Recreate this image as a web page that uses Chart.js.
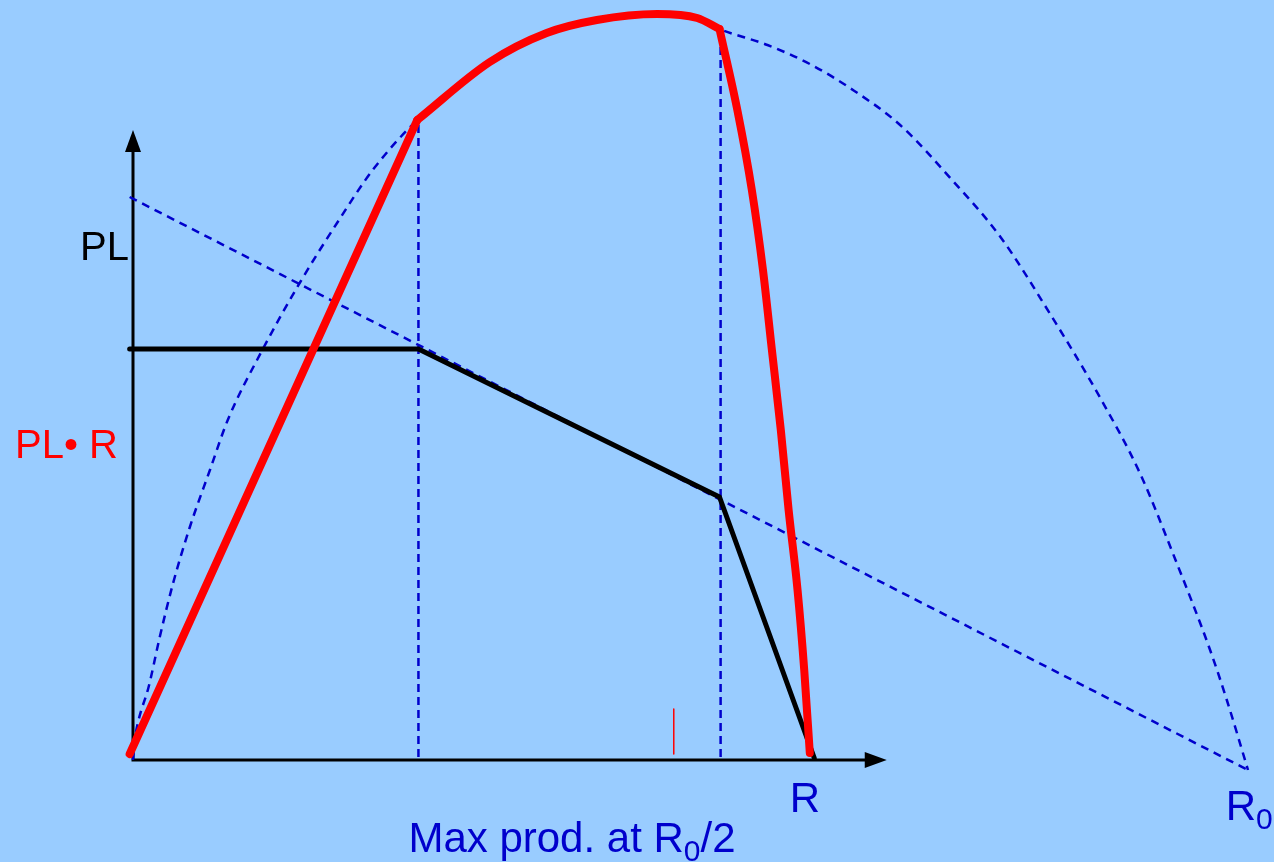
<!DOCTYPE html>
<html>
<head>
<meta charset="utf-8">
<title>PL and PL• R against R</title>
<script src="https://cdn.jsdelivr.net/npm/chart.js@4.4.1/dist/chart.umd.min.js"></script>
<style>
  html, body { margin: 0; padding: 0; background: #99ccff; }
  canvas { display: block; }
</style>
</head>
<body>
<canvas id="myChart" width="1274" height="862"></canvas>
<script>
/* R runs from 0 to R0 = 100 */

// PL (black, piecewise)
var plX = [-0.3, 25.6, 52.6, 61.1];
var plY = [41.1, 41.1, 26.3, 0.2];

// PL • R (red): straight rise, curved top, steep fall
var riseX = [-0.3, 25.5];
var riseY = [0.6, 64.0];
var topX = [25.5, 32.0, 37.1, 41.6, 47.0, 50.6, 52.6];
var topY = [64.0, 69.8, 72.7, 74.0, 74.6, 74.2, 73.1];
var fallX = [52.6, 54.2, 55.5, 56.5, 57.3, 58.1, 58.8, 59.6, 60.2, 60.7];
var fallY = [73.1, 65.0, 57.0, 49.0, 41.0, 33.0, 25.0, 17.0, 9.0, 0.7];

// dashed: straight price line and the product curve out to R0
var lineX = [-0.3, 100];
var lineY = [56.3, -1.0];
var arcX = [0, 0.2, 0.5, 1.4, 2.4, 3.6, 5.1, 6.9, 8.5, 11.6, 15.0, 18.3, 21.5, 25.5, 32.0, 37.1, 41.6, 47.0, 50.6, 52.6,
            56.9, 60.7, 64.3, 68.8, 73.3, 77.8, 82.2, 86.7, 90.3, 93.5, 96.6, 98.1, 100];
var arcY = [0, 2.3, 4.0, 7.3, 12.3, 17.7, 23.3, 29.0, 34.0, 41.0, 47.8, 53.7, 59.0, 64.0, 69.8, 72.7, 74.0, 74.6, 74.2, 73.1,
            71.5, 69.6, 67.2, 63.5, 58.2, 52.3, 44.7, 36.3, 28.7, 20.0, 11.0, 6.0, -1.0];

// dashed drop lines at the two kinks
var guideX = [25.6, 52.7];
var guideTop = [63.8, 73.1];
var guideBottom = 0.3;

// small red mark on the R axis
var markX = 48.5;
var markY = [0.6, 5.1];

// axis arrow ends
var axisXEnd = 67.6;
var axisYEnd = 63.0;

function pts(xs, ys) {
  return xs.map(function(x, i) { return { x: x, y: ys[i] }; });
}

var blue = '#0000cc';

var datasets = [];
datasets.push({ data: pts(riseX, riseY), borderColor: '#ff0000', borderWidth: 8, tension: 0, order: 0 });
datasets.push({ data: pts(topX, topY), borderColor: '#ff0000', borderWidth: 8, cubicInterpolationMode: 'monotone', order: 0 });
datasets.push({ data: pts(fallX, fallY), borderColor: '#ff0000', borderWidth: 8, cubicInterpolationMode: 'monotone', order: 0 });
datasets.push({ data: pts(plX, plY), borderColor: '#000000', borderWidth: 5, tension: 0, order: 1 });
datasets.push({ data: pts(lineX, lineY), borderColor: blue, borderWidth: 2.5, borderDash: [8, 6], tension: 0, order: 2 });
datasets.push({ data: pts(arcX, arcY), borderColor: blue, borderWidth: 2.5, borderDash: [8, 6], cubicInterpolationMode: 'monotone', order: 2 });
guideX.forEach(function(gx, i) {
  datasets.push({ data: [{ x: gx, y: guideBottom }, { x: gx, y: guideTop[i] }], borderColor: blue, borderWidth: 2.5, borderDash: [8, 5], order: 2 });
});
datasets.push({ data: [{ x: markX, y: markY[0] }, { x: markX, y: markY[1] }], borderColor: '#ff0000', borderWidth: 1.5, order: 2 });

datasets.forEach(function(d) {
  d.pointRadius = 0;
  d.fill = false;
  d.clip = false;
  d.borderCapStyle = d.borderDash ? 'butt' : 'round';
  d.borderJoinStyle = 'round';
});

// arrowed axes, drawn under the curves
var axesPlugin = {
  id: 'axes',
  beforeDatasetsDraw: function(chart) {
    var c = chart.ctx, xs = chart.scales.x, ys = chart.scales.y;
    var ox = xs.getPixelForValue(0), oy = ys.getPixelForValue(0);
    var ex = xs.getPixelForValue(axisXEnd), ey = ys.getPixelForValue(axisYEnd);
    c.save();
    c.strokeStyle = '#000';
    c.fillStyle = '#000';
    c.lineWidth = 3;
    c.beginPath();
    c.moveTo(ox, ey + 16);
    c.lineTo(ox, oy);
    c.lineTo(ex - 16, oy);
    c.stroke();
    // arrow heads
    c.beginPath();
    c.moveTo(ox, ey);
    c.lineTo(ox - 8, ey + 22);
    c.lineTo(ox + 8, ey + 22);
    c.closePath();
    c.fill();
    c.beginPath();
    c.moveTo(ex, oy);
    c.lineTo(ex - 22, oy - 8);
    c.lineTo(ex - 22, oy + 8);
    c.closePath();
    c.fill();
    c.restore();
  }
};

// text with a subscript part: parts = [[text, isSub], ...]
function drawParts(c, parts, x, y, size, subSize) {
  parts.forEach(function(p) {
    if (p[1]) {
      c.font = subSize + 'px "Liberation Sans", Arial, sans-serif';
      c.fillText(p[0], x, y + size * 0.22);
    } else {
      c.font = size + 'px "Liberation Sans", Arial, sans-serif';
      c.fillText(p[0], x, y);
    }
    x += c.measureText(p[0]).width;
  });
}

var labelsPlugin = {
  id: 'labels',
  afterDraw: function(chart) {
    var c = chart.ctx, xs = chart.scales.x, ys = chart.scales.y;
    var ox = xs.getPixelForValue(0);
    c.save();
    c.textBaseline = 'alphabetic';
    c.font = '40px "Liberation Sans", Arial, sans-serif';
    c.fillStyle = '#000000';
    c.textAlign = 'right';
    c.fillText('PL', ox - 4, ys.getPixelForValue(50));
    c.textAlign = 'left';
    c.fillStyle = '#ff0000';
    c.fillText('PL\u2022 R', ox - 118, ys.getPixelForValue(30.2));

    c.fillStyle = blue;
    c.font = '42px "Liberation Sans", Arial, sans-serif';
    c.fillText('R', xs.getPixelForValue(58.9), ys.getPixelForValue(-5.2));
    drawParts(c, [['R', false], ['0', true]], xs.getPixelForValue(98.0), ys.getPixelForValue(-6.0), 42, 30);
    drawParts(c, [['Max prod. at R', false], ['0', true], ['/2', false]], xs.getPixelForValue(24.7), ys.getPixelForValue(-9.2), 42, 30);
    c.restore();
  }
};

var ctx = document.getElementById('myChart').getContext('2d');
var myChart = new Chart(ctx, {
  type: 'line',
  data: { datasets: datasets },
  options: {
    responsive: false,
    animation: false,
    events: [],
    layout: { padding: { left: 133, right: 26, top: 10, bottom: 62 } },
    plugins: { legend: { display: false }, tooltip: { enabled: false } },
    scales: {
      x: { type: 'linear', min: 0, max: 100, display: false },
      y: { type: 'linear', min: -4, max: 75, display: false }
    }
  },
  plugins: [axesPlugin, labelsPlugin]
});
</script>
</body>
</html>
